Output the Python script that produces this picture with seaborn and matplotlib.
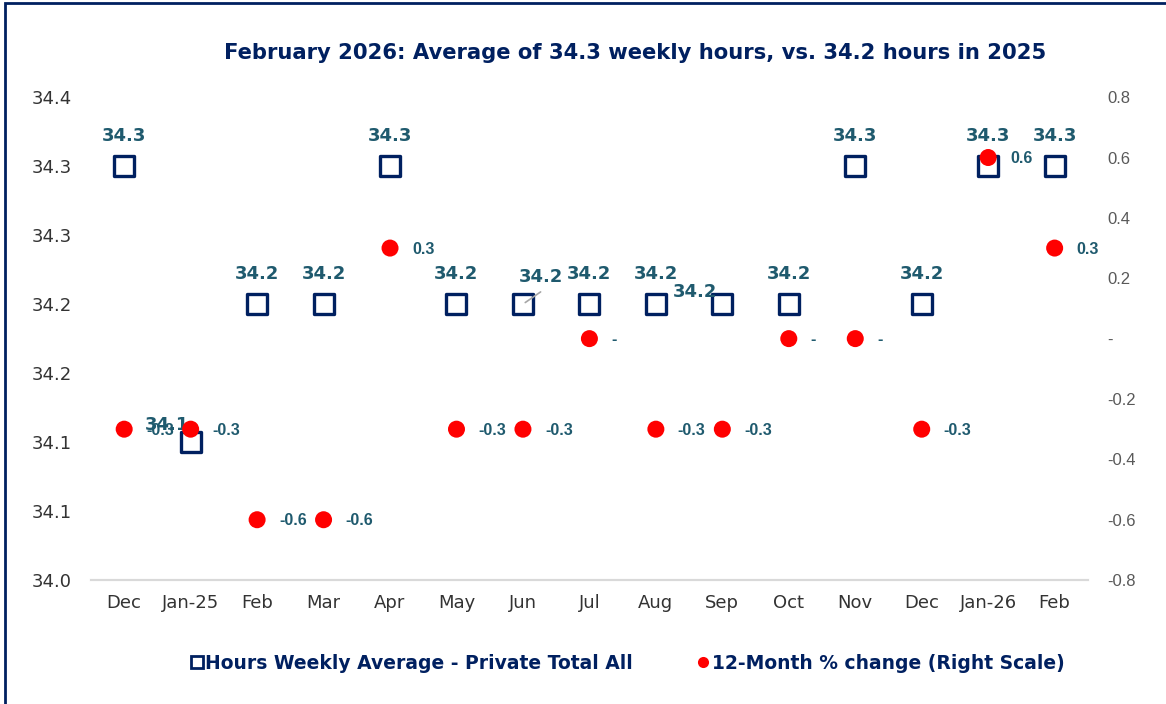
import pandas as pd
import seaborn as sns
import matplotlib.pyplot as plt
from matplotlib.lines import Line2D
from matplotlib.patches import Rectangle

# data
months = ["Dec", "Jan-25", "Feb", "Mar", "Apr", "May", "Jun", "Jul",
          "Aug", "Sep", "Oct", "Nov", "Dec", "Jan-26", "Feb"]
hours = [34.3, 34.1, 34.2, 34.2, 34.3, 34.2, 34.2, 34.2,
         34.2, 34.2, 34.2, 34.3, 34.2, 34.3, 34.3]
pct_change = [-0.3, -0.3, -0.6, -0.6, 0.3, -0.3, -0.3, 0.0,
              -0.3, -0.3, 0.0, 0.0, -0.3, 0.6, 0.3]

df = pd.DataFrame({"x": range(len(months)), "month": months,
                   "hours": hours, "pct": pct_change})

navy = "#002060"
teal = "#1F5A6E"

sns.set_style("white")
plt.rcParams["font.family"] = ["DejaVu Sans"]

fig = plt.figure(figsize=(11.66, 7.04), dpi=100)
ax = fig.add_axes([0.078, 0.176, 0.855, 0.686])
ax2 = ax.twinx()

sns.scatterplot(data=df, x="x", y="hours", ax=ax, marker="s", s=190,
                facecolor="white", edgecolor=navy, linewidth=2.4, zorder=3)
sns.scatterplot(data=df, x="x", y="pct", ax=ax2, marker="o", s=150,
                color="#FF0000", edgecolor="none", zorder=4)

ax.set_xlim(-0.5, len(months) - 0.5)
ax.set_ylim(34.0, 34.35)
ax.set_yticks([34.0 + 0.05 * i for i in range(8)])
ax.set_yticklabels([f"{34.0 + 0.05 * i + 1e-9:.1f}" for i in range(8)],
                   fontsize=13, color="#333333")
ax.set_xticks(range(len(months)))
ax.set_xticklabels(months, fontsize=13, color="#333333")
ax.set_xlabel("")
ax.set_ylabel("")
ax.tick_params(axis="x", length=0, pad=10)
ax.tick_params(axis="y", length=0, pad=14)

ax2.set_ylim(-0.8, 0.8)
r_ticks = [-0.8, -0.6, -0.4, -0.2, 0.0, 0.2, 0.4, 0.6, 0.8]
ax2.set_yticks(r_ticks)
ax2.set_yticklabels(["-" if t == 0 else f"{t:.1f}" for t in r_ticks],
                    fontsize=12, color="#595959", family="Liberation Sans")
ax2.set_ylabel("")
ax2.tick_params(axis="y", length=0, pad=14)

for a in (ax, ax2):
    for s in ["top", "left", "right"]:
        a.spines[s].set_visible(False)
    a.spines["bottom"].set_color("#D9D9D9")
    a.spines["bottom"].set_linewidth(1.5)

# square labels (a few are nudged like in the original)
offsets = {1: (-24, 17), 6: (18, 27), 9: (-27, 12)}
for i, v in enumerate(hours):
    dx, dy = offsets.get(i, (0, 30))
    ax.annotate(f"{v:.1f}", (i, v), xytext=(dx, dy), textcoords="offset pixels",
                ha="center", va="center", fontsize=13, fontweight="bold",
                color=teal, zorder=6)
ax.annotate("", (6, 34.2), xytext=(6.3, 34.21),
            arrowprops=dict(arrowstyle="-", color="#A6A6A6", lw=1.2))

# dot labels
for i, v in enumerate(pct_change):
    txt = "-" if v == 0 else f"{v:.1f}"
    ax2.annotate(txt, (i, v), xytext=(22, -1), textcoords="offset pixels",
                 ha="left", va="center", fontsize=11.5, fontweight="bold",
                 color=teal, family="Liberation Sans", zorder=5)

fig.text(0.545, 0.925, "February 2026: Average of 34.3 weekly hours, vs. 34.2 hours in 2025",
         ha="center", va="center", fontsize=15.2, fontweight="bold", color=navy)

handles = [
    Line2D([], [], marker="s", linestyle="", markersize=8, markerfacecolor="white",
           markeredgecolor=navy, markeredgewidth=2),
    Line2D([], [], marker="o", linestyle="", markersize=8, markerfacecolor="#FF0000",
           markeredgecolor="none"),
]
fig.legend(handles, ["Hours Weekly Average - Private Total All",
                     "12-Month % change (Right Scale)"],
           loc="center", bbox_to_anchor=(0.535, 0.058), ncol=2, frameon=False,
           handletextpad=-0.3, columnspacing=3, handlelength=1.5,
           prop={"size": 13.5, "weight": "bold"}, labelcolor=navy)

fig.patches.append(Rectangle((0.004, -0.01), 1.2, 1.006, transform=fig.transFigure,
                             fill=False, edgecolor=navy, linewidth=2))

fig.savefig("out.png", dpi=100)
